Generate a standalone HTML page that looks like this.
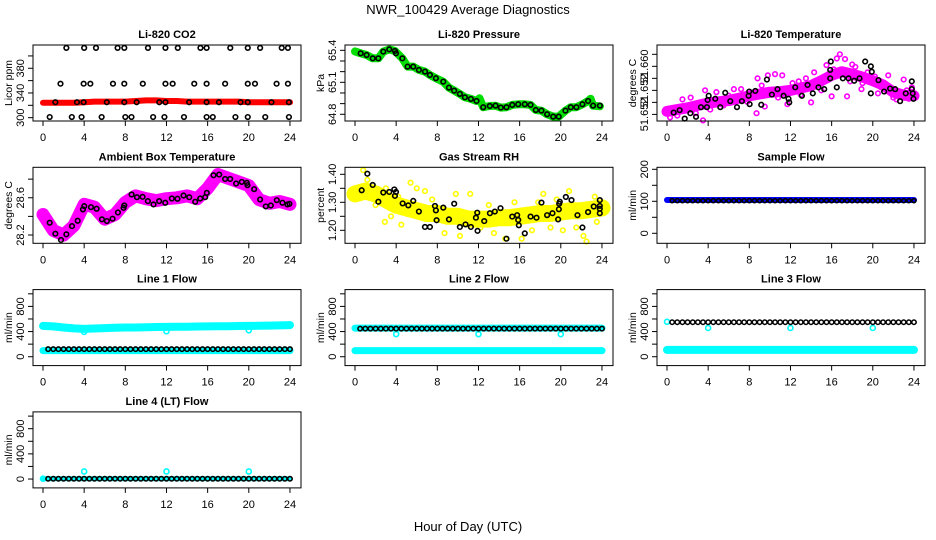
<!DOCTYPE html>
<html><head><meta charset="utf-8"><style>
html,body{margin:0;padding:0;background:#fff;}
svg{display:block;font-family:"Liberation Sans",sans-serif;}
</style></head><body>
<svg id="chart" width="936" height="540" viewBox="0 0 936 540" xmlns="http://www.w3.org/2000/svg">
<rect width="936" height="540" fill="#fff"/>
<text x="468" y="14" text-anchor="middle" font-size="13">NWR_100429  Average Diagnostics</text>
<text x="468" y="531" text-anchor="middle" font-size="13">Hour of Day (UTC)</text>
</svg>
<script>
// ---------- data ----------
const xTicks = [0,4,8,12,16,20,24];
const hours = [0,1,2,3,4,5,6,7,8,9,10,11,12,13,14,15,16,17,18,19,20,21,22,23,24];
const halfHours = [0.5,1,1.5,2,2.5,3,3.5,4,4.5,5,5.5,6,6.5,7,7.5,8,8.5,9,9.5,10,10.5,11,11.5,12,12.5,13,13.5,14,14.5,15,15.5,16,16.5,17,17.5,18,18.5,19,19.5,20,20.5,21,21.5,22,22.5,23,23.5,24];

// CO2
const co2RedV = [324,324,324,324,325,326,326,326,326,327,328,328,327,327,326,326,326,326,326,326,325,325,325,325,325];
const co2T = [2.27,4.0,5.15,7.25,7.9,10.2,11.9,13.1,15.3,15.9,18.2,19.9,21.1,23.2,23.8,
 1.7,3.95,4.6,6.8,7.9,9.7,11.9,12.6,14.7,15.9,17.7,19.9,20.6,22.7,23.8,
 1.2,3.3,3.95,6.2,7.9,9.1,11.3,11.9,14.2,15.9,17.1,19.2,19.9,22.2,23.9,
 0.65,2.8,3.75,5.7,8.0,8.6,10.7,11.8,13.7,15.9,16.5,18.7,19.9,21.6,23.9];
const co2V = [413,413,413,413,413,413,413,413,413,413,413,413,413,413,413,
 355,355,355,355,355,355,355,355,355,355,355,355,355,355,355,
 325,325,325,325,325,325,325,325,325,325,325,325,325,325,325,
 301,301,301,301,301,301,301,301,301,301,301,301,301,301,301];

// Pressure
const presT = [0.55,1.13,1.72,2.27,2.75,3.33,3.88,3.98,4.6,5.11,5.66,6.21,6.8,7.28,7.86,8.58,9.13,9.64,10.19,10.68,11.26,11.81,12.46,13.1,13.66,14.17,14.72,15.28,15.86,16.5,17.06,17.57,18.12,18.67,19.26,19.8,20.45,20.97,21.52,22.1,22.65,23.14,23.8];
const presV = [65.372,65.356,65.325,65.325,65.388,65.409,65.394,65.372,65.325,65.247,65.247,65.216,65.2,65.169,65.138,65.106,65.05,65.022,64.991,64.959,64.944,64.925,64.866,64.878,64.881,64.863,64.866,64.888,64.894,64.894,64.888,64.84,64.834,64.8,64.778,64.778,64.834,64.866,64.866,64.894,64.925,64.881,64.881];
const presGreenT = [0,0.55,1.13,1.72,2.27,2.75,3.33,3.88,4.6,5.11,5.66,6.21,6.8,7.28,7.86,8.58,9.13,9.64,10.19,10.68,11.26,11.81,12.1,12.46,13.1,13.66,14.17,14.72,15.28,15.86,16.5,17.06,17.57,18.12,18.67,19.26,19.8,20.45,20.97,21.52,22.1,22.65,22.9,23.14,23.8];
const presGreenV = [65.39,65.372,65.356,65.325,65.325,65.388,65.409,65.394,65.325,65.247,65.247,65.216,65.2,65.169,65.138,65.106,65.05,65.022,64.991,64.959,64.944,64.925,64.95,64.866,64.878,64.881,64.863,64.866,64.888,64.894,64.894,64.888,64.84,64.834,64.8,64.778,64.778,64.834,64.866,64.866,64.894,64.925,64.945,64.881,64.875];

// Li-820 temperature
const tempBandV = [51.6525,51.6528,51.6531,51.6535,51.6539,51.6541,51.6543,51.6547,51.6551,51.6554,51.6557,51.6558,51.6560,51.6564,51.6568,51.6576,51.6585,51.6591,51.6587,51.6582,51.6576,51.6569,51.6557,51.6552,51.6551];
const tempMagT = [0.3,0.8,1.5,2.3,3.5,3.7,4.8,5.5,6.5,7.2,8.7,8.8,9.5,9.8,10.5,11.2,11.7,12.8,13.5,14.0,14.3,14.9,15.5,16.0,16.5,16.8,17.3,17.5,18.0,18.3,18.9,19.5,20.2,20.5,21.5,22.3,23.0,23.5,23.8,1.0,2.8,4.2,6.0,7.8,9.2,10.8,12.2,13.0,15.0,16.2,17.8,19.0,20.8,22.0,23.3];
const tempMagV = [51.6515,51.6525,51.6545,51.6548,51.6510,51.6560,51.6557,51.6535,51.6562,51.6562,51.6522,51.6580,51.6533,51.6585,51.6587,51.6585,51.6537,51.6575,51.6580,51.6540,51.6590,51.6578,51.6602,51.6550,51.6613,51.6620,51.6612,51.6550,51.6603,51.6599,51.6562,51.6590,51.6583,51.6555,51.6585,51.6545,51.6578,51.6546,51.6565,51.6518,51.6522,51.6528,51.6551,51.6541,51.6568,51.6548,51.6572,51.6553,51.6560,51.6595,51.6575,51.6572,51.6565,51.6548,51.6560];
const tempBlkT = [0.65,1.23,1.72,2.27,2.82,3.3,3.88,3.95,4.05,4.69,5.18,5.66,6.15,6.8,7.28,7.93,7.99,8.03,8.58,9.16,9.71,10.19,10.74,11.33,11.81,11.88,12.46,13.11,13.66,14.17,14.72,15.28,15.86,15.86,15.92,16.5,17.09,17.64,18.19,18.71,19.26,19.81,19.81,19.9,20.55,21.1,21.68,22.17,22.65,23.2,23.79,23.79,23.88,23.95];
const tempBlkV = [51.6523,51.6527,51.6513,51.6522,51.6516,51.6532,51.6532,51.6544,51.6551,51.6546,51.6532,51.6556,51.6542,51.6532,51.6542,51.6551,51.6558,51.6537,51.6559,51.6536,51.6578,51.6553,51.6562,51.6551,51.6546,51.6540,51.6565,51.6551,51.6569,51.6555,51.6565,51.6562,51.6580,51.6594,51.6608,51.6565,51.6580,51.6580,51.6576,51.6580,51.6608,51.6600,51.6555,51.6591,51.6577,51.6558,51.6563,51.6562,51.6542,51.6555,51.6575,51.6562,51.6555,51.6546];

// Ambient box temperature
const ambBandV = [28.42,28.25,28.20,28.30,28.53,28.50,28.37,28.42,28.55,28.62,28.59,28.57,28.59,28.60,28.62,28.59,28.70,28.85,28.81,28.77,28.73,28.58,28.54,28.56,28.53];
const ambT = [0.65,1.2,1.75,2.27,2.82,3.37,3.88,4.01,4.66,5.21,5.73,6.21,6.76,7.28,7.83,7.9,8.61,9.13,9.68,10.19,10.74,11.29,11.88,12.52,13.07,13.66,14.21,14.79,15.28,15.76,15.92,16.57,17.12,17.7,18.19,18.77,19.32,19.81,19.87,20.52,21.1,21.65,22.14,22.72,23.27,23.75,23.95];
const ambV = [28.332,28.214,28.147,28.207,28.296,28.353,28.475,28.510,28.499,28.482,28.368,28.350,28.375,28.442,28.492,28.517,28.635,28.606,28.610,28.564,28.528,28.564,28.546,28.592,28.589,28.624,28.606,28.557,28.592,28.606,28.653,28.842,28.849,28.802,28.802,28.753,28.770,28.760,28.735,28.692,28.581,28.507,28.517,28.574,28.546,28.528,28.535];

// Gas stream RH
const rhBandV = [1.33,1.34,1.33,1.31,1.29,1.28,1.27,1.26,1.26,1.25,1.25,1.24,1.24,1.24,1.245,1.245,1.25,1.255,1.26,1.26,1.265,1.27,1.27,1.275,1.28];
const rhYelT = [0.8,1.2,2.0,2.9,3.5,4.5,5.4,6.0,6.8,8.7,9.8,10.2,11.2,12.2,13.5,14.6,15.5,16.2,17.2,18.3,19.0,20.2,20.8,21.5,22.2,22.5,23.3,23.5,3.0,4.2,7.5,13.0,17.8,19.6,0.2,23.9];
const rhYelV = [1.415,1.38,1.29,1.23,1.25,1.22,1.37,1.35,1.34,1.19,1.33,1.18,1.33,1.21,1.19,1.17,1.30,1.17,1.20,1.33,1.21,1.20,1.34,1.21,1.18,1.16,1.32,1.23,1.35,1.32,1.31,1.29,1.30,1.31,1.35,1.30];
const rhBlkT = [0.65,1.2,1.72,2.27,2.75,3.33,3.82,3.88,3.98,4.63,5.18,5.66,6.21,6.8,7.28,7.77,7.86,7.93,8.58,9.13,9.64,10.19,10.74,11.26,11.75,11.88,11.91,12.56,13.11,13.59,14.14,14.72,15.28,15.76,15.86,15.92,16.5,17.06,17.64,18.12,18.67,19.19,19.74,19.81,19.84,19.9,20.49,21.04,21.62,22.1,22.65,23.2,23.79,23.79,23.79,23.79];
const rhBlkV = [1.343,1.402,1.362,1.302,1.335,1.337,1.346,1.323,1.337,1.296,1.289,1.305,1.267,1.212,1.212,1.287,1.271,1.236,1.281,1.239,1.295,1.212,1.221,1.212,1.245,1.263,1.198,1.233,1.261,1.267,1.279,1.170,1.249,1.254,1.237,1.218,1.189,1.249,1.245,1.299,1.254,1.261,1.239,1.275,1.295,1.302,1.319,1.308,1.254,1.210,1.265,1.285,1.308,1.287,1.277,1.261];

// Flows
const sampleBlue = [104,104,104,104,104,104,104,104,104,104,104,104,104,104,104,104,104,104,104,104,104,104,104,104,104];
const sampleBlk = [102,102,102,102,102,102,102,102,102,102,102,102,102,102,102,102,102,102,102,102,102,102,102,102,102,102,102,102,102,102,102,102,102,102,102,102,102,102,102,102,102,102,102,102,102,102,102,102];
const l1CyanHi = [490,482,465,450,442,448,455,460,465,465,470,472,474,476,478,480,482,484,486,488,490,492,495,498,502];
const l1CyanLo = [97,97,97,97,97,97,97,97,97,97,97,97,97,97,97,97,97,97,97,97,97,97,97,97,97];
const l1Blk = [120,120,120,120,120,120,120,120,120,120,120,120,120,120,120,120,120,120,120,120,120,120,120,120,120,120,120,120,120,120,120,120,120,120,120,120,120,120,120,120,120,120,120,120,120,120,120,120];
const l1OutT = [4,12,20];
const l1OutV = [395,405,420];
const l2CyanHi = [455,455,455,455,455,455,455,455,455,455,455,455,455,455,455,455,455,455,455,455,455,455,455,455,455];
const l2CyanLo = [97,97,97,97,97,97,97,97,97,97,97,97,97,97,97,97,97,97,97,97,97,97,97,97,97];
const l2Blk = [446,446,446,446,446,446,446,446,446,446,446,446,446,446,446,446,446,446,446,446,446,446,446,446,446,446,446,446,446,446,446,446,446,446,446,446,446,446,446,446,446,446,446,446,446,446,446,446];
const l2OutT = [4,12,20];
const l2OutV = [359,359,359];
const l3CyanLo = [108,108,108,108,108,108,108,108,108,108,108,108,108,108,108,108,108,108,108,108,108,108,108,108,108];
const l3Blk = [549,549,549,549,549,549,549,549,549,549,549,549,549,549,549,549,549,549,549,549,549,549,549,549,549,549,549,549,549,549,549,549,549,549,549,549,549,549,549,549,549,549,549,549,549,549,549,549];
const l3OutT = [0,4,12,20];
const l3OutV = [555,457,457,457];
const l4Cyan = [3,3,3,3,3,3,3,3,3,3,3,3,3,3,3,3,3,3,3,3,3,3,3,3,3];
const l4Blk = [5,5,5,5,5,5,5,5,5,5,5,5,5,5,5,5,5,5,5,5,5,5,5,5,5,5,5,5,5,5,5,5,5,5,5,5,5,5,5,5,5,5,5,5,5,5,5,5];
const l4OutT = [0,4,12,20];
const l4OutV = [5,120,120,120];

const flowTicks = [0,200,400,600,800,1000];
const flowLabels = ['0','','400','','800',''];

// ---------- drawing ----------
const svg = document.getElementById('chart');
const NS = 'http://www.w3.org/2000/svg';
function mk(tag, attrs, parent){
  const e = document.createElementNS(NS, tag);
  for (const k in attrs) e.setAttribute(k, attrs[k]);
  (parent||svg).appendChild(e);
  return e;
}
function makePanel(col, row, title, slug, ytitle, ymin, ymax, yticks, ylabels){
  const x0 = 33 + 312*col, w = 268;
  const top = 45 + 122.3*row, h = 76, bottom = top + h;
  const g = mk('g', {});
  
  
  const xs = v => x0 + 10 + v*10.29;
  const ys = v => bottom - (v - ymin)/(ymax - ymin)*h;
  const t = mk('text', {x: x0 + w/2, y: top - 7, 'text-anchor':'middle', 'font-size':11, 'font-weight':'bold'}, g);
  t.textContent = title;
  
  
  xTicks.forEach(v => {
    mk('line', {x1: xs(v), x2: xs(v), y1: bottom, y2: bottom+5, stroke:'#000', 'stroke-width':1}, g);
    const lt = mk('text', {x: xs(v), y: bottom + 20, 'text-anchor':'middle', 'font-size':11}, g);
    lt.textContent = v;
    
    
  });
  yticks.forEach((v, i) => {
    mk('line', {x1: x0-5, x2: x0, y1: ys(v), y2: ys(v), stroke:'#000', 'stroke-width':1}, g);
    if (ylabels[i]) {
      const lt = mk('text', {x: x0-9, y: ys(v), 'text-anchor':'middle', 'font-size':11, transform:`rotate(-90 ${x0-9} ${ys(v)})`}, g);
      lt.textContent = ylabels[i];
      
      
    }
  });
  const yt = mk('text', {x: x0-21, y: top + h/2, 'text-anchor':'middle', 'font-size':10.5, transform:`rotate(-90 ${x0-21} ${top+h/2})`}, g);
  yt.textContent = ytitle;
  
  
  const plot = mk('g', {}, g);
  
  
  const box = mk('rect', {x: x0, y: top, width: w, height: h, fill:'none', stroke:'#000', 'stroke-width':1}, g);
  
  
  return {plot, xs, ys};
}
function band(p, ts, vs, color, width, name){
  const pts = ts.map((t,i) => p.xs(t).toFixed(1) + ',' + p.ys(vs[i]).toFixed(1)).join(' ');
  const pl = mk('polyline', {points: pts, fill:'none', stroke: color, 'stroke-width': width, 'stroke-linejoin':'round', 'stroke-linecap':'round'}, p.plot);
  
  
}
function pts(p, ts, vs, color, name, r){
  ts.forEach((t,i) => {
    const c = mk('circle', {cx: p.xs(t), cy: p.ys(vs[i]), r: r||2.3, fill:'none', stroke: color, 'stroke-width':1.6}, p.plot);
    
    
  });
}

// CO2
let p = makePanel(0,0,'Li-820 CO2','co2','Licor ppm',294.6,417.7,[300,320,340,360,380,400],['300','','340','','380','']);
band(p, hours, co2RedV, '#ff0000', 6, 'co2-red-series');
pts(p, co2T, co2V, '#000', 'co2-point');

// Pressure
p = makePanel(1,0,'Li-820 Pressure','pressure','kPa',64.737,65.45,[64.8,64.9,65.0,65.1,65.2,65.3,65.4],['64.8','','','65.1','','','65.4']);
band(p, presGreenT, presGreenV, '#00dd00', 8, 'pressure-green-series');
pts(p, presT, presV, '#000', 'pressure-point');

// Temperature
p = makePanel(2,0,'Li-820 Temperature','li820-temp','degrees C',51.6509,51.66355,[51.652,51.654,51.656,51.658,51.660,51.662],['51.652','','51.652','','51.660','']);
band(p, hours, tempBandV, '#ff00ff', 11, 'temp-magenta-band');
pts(p, tempMagT, tempMagV, '#ff00ff', 'temp-magenta-point');
pts(p, tempBlkT, tempBlkV, '#000', 'temp-point');

// Ambient
p = makePanel(0,1,'Ambient Box Temperature','ambient','degrees C',28.111,28.927,[28.2,28.4,28.6,28.8],['28.2','','28.6','']);
band(p, hours, ambBandV, '#ff00ff', 13, 'ambient-magenta-band');
pts(p, ambT, ambV, '#000', 'ambient-point');

// RH
p = makePanel(1,1,'Gas Stream RH','rh','percent',1.1536,1.425,[1.20,1.25,1.30,1.35,1.40],['1.20','','1.30','','1.40']);
band(p, hours, rhBandV, '#ffff00', 17, 'rh-yellow-band');
pts(p, rhYelT, rhYelV, '#ffff00', 'rh-yellow-point');
pts(p, rhBlkT, rhBlkV, '#000', 'rh-point');

// Sample flow
p = makePanel(2,1,'Sample Flow','sample-flow','ml/min',-31.25,206.25,[0,50,100,150,200],['0','','100','','200']);
band(p, hours, sampleBlue, '#0000ff', 6, 'sample-blue-series');
pts(p, halfHours, sampleBlk, '#000', 'sample-point', 2);

// Line 1
p = makePanel(0,2,'Line 1 Flow','line1-flow','ml/min',-141,1067,flowTicks,flowLabels);
band(p, hours, l1CyanHi, '#00ffff', 8, 'line1-cyan-high');
band(p, hours, l1CyanLo, '#00ffff', 7, 'line1-cyan-low');
pts(p, l1OutT, l1OutV, '#00ffff', 'line1-cyan-outlier', 2.5);
pts(p, halfHours, l1Blk, '#000', 'line1-point', 2.2);

// Line 2
p = makePanel(1,2,'Line 2 Flow','line2-flow','ml/min',-141,1067,flowTicks,flowLabels);
band(p, hours, l2CyanHi, '#00ffff', 7, 'line2-cyan-high');
band(p, hours, l2CyanLo, '#00ffff', 7, 'line2-cyan-low');
pts(p, l2OutT, l2OutV, '#00ffff', 'line2-cyan-outlier', 2.5);
pts(p, halfHours, l2Blk, '#000', 'line2-point', 2.2);

// Line 3
p = makePanel(2,2,'Line 3 Flow','line3-flow','ml/min',-141,1067,flowTicks,flowLabels);
band(p, hours, l3CyanLo, '#00ffff', 8, 'line3-cyan-low');
pts(p, l3OutT, l3OutV, '#00ffff', 'line3-cyan-outlier', 2.5);
pts(p, halfHours, l3Blk, '#000', 'line3-point', 2.2);

// Line 4
p = makePanel(0,3,'Line 4 (LT) Flow','line4-flow','ml/min',-141,1067,flowTicks,flowLabels);
band(p, hours, l4Cyan, '#00ffff', 5, 'line4-cyan-series');
pts(p, l4OutT, l4OutV, '#00ffff', 'line4-cyan-outlier', 2.5);
pts(p, halfHours, l4Blk, '#000', 'line4-point', 2.2);
</script>
</body></html>
